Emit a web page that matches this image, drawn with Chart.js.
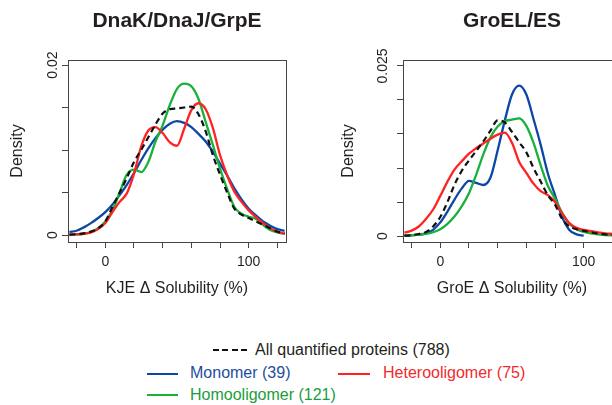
<!DOCTYPE html>
<html>
<head>
<meta charset="utf-8">
<script src="https://cdn.jsdelivr.net/npm/chart.js@4.4.1/dist/chart.umd.min.js"></script>
<style>
html, body { margin: 0; overflow: hidden; background: #fff; }
body { width: 612px; height: 405px; position: relative; font-family: "Liberation Sans", Arial, Helvetica, sans-serif; }
canvas { position: absolute; top: 0; }
#kje { left: 0; }
#groe { left: 306px; }
.leg { position: absolute; font-size: 16px; line-height: 18px; white-space: nowrap; }
.traco { position: absolute; height: 2px; }
</style>
</head>
<body>
<canvas id="kje" width="306" height="305"></canvas>
<canvas id="groe" width="330" height="305"></canvas>
<div id="legenda"></div>

<script>
// valores (densidade), grade de x em % de solubilidade
const xGrade = [-25,-20,-15,-10,-5,0,5,10,15,20,25,30,35,40,45,50,55,60,65,70,75,80,85,90,95,100,105,110,115,120,125];

const grupos = ['All quantified proteins (788)', 'Monomer (39)', 'Homooligomer (121)', 'Heterooligomer (75)'];
const cores = ['#111111', '#0c47a8', '#19b03c', '#ff2222'];
const coresTexto = ['#231f20', '#1d4e9e', '#1c9c3c', '#f02a2d'];

// DnaK/DnaJ/GrpE
const kjeTodos = [0.00005,0.0001,0.0002,0.0004,0.0008,0.0016,0.0033,0.005,0.0067,0.0086,0.01,0.0115,0.013,0.0143,0.0148,0.0149,0.015,0.0151,0.0142,0.0122,0.0094,0.0071,0.005,0.0031,0.0024,0.002,0.0016,0.0012,0.0008,0.0004,0.0002];
const kjeMono = [0.00035,0.0005,0.0009,0.0014,0.002,0.0027,0.0036,0.0047,0.0059,0.0073,0.0088,0.0102,0.0114,0.0124,0.0131,0.0134,0.0132,0.0127,0.0119,0.011,0.0098,0.0084,0.007,0.0055,0.0042,0.0031,0.0023,0.0016,0.0011,0.0007,0.0005];
const kjeHomo = [0,0.00005,0.00015,0.00035,0.0008,0.0016,0.0029,0.005,0.0071,0.0077,0.0074,0.0086,0.011,0.0129,0.0153,0.0172,0.0178,0.0175,0.016,0.0133,0.0106,0.0078,0.0054,0.0033,0.0025,0.00215,0.0019,0.0012,0.0006,0.0003,0.00015];
const kjeHetero = [0.00005,0.0001,0.00015,0.0003,0.0007,0.0014,0.0027,0.0039,0.0049,0.0072,0.0104,0.0123,0.0127,0.012,0.0109,0.0105,0.0125,0.0147,0.0155,0.0148,0.0126,0.0094,0.007,0.0051,0.0039,0.0029,0.0021,0.0014,0.0008,0.0004,0.00015];

// GroEL/ES
const groTodos = [0.00005,0.0001,0.0003,0.0006,0.0014,0.0028,0.005,0.0076,0.0096,0.0111,0.0125,0.0139,0.0155,0.017,0.0167,0.0153,0.0138,0.0123,0.01,0.008,0.006,0.0046,0.0025,0.0014,0.001,0.00075,0.00055,0.00035,0.00025,0.00015,0.0001];
const groMono = [0.00005,0.0001,0.0002,0.0004,0.0009,0.002,0.0036,0.0054,0.007,0.0081,0.0078,0.0075,0.0086,0.0126,0.017,0.0208,0.0221,0.0208,0.0172,0.0134,0.0092,0.006,0.0028,0.0009,0.00025,0.00005,null,null,null,null,null];
const groHomo = [0.00005,0.0001,0.0002,0.0003,0.00055,0.001,0.0018,0.0029,0.0044,0.0063,0.009,0.012,0.0145,0.0161,0.0169,0.0171,0.0173,0.0162,0.0137,0.0104,0.0074,0.0055,0.0034,0.0018,0.001,0.0006,0.0004,0.00025,0.00015,0.0001,0.00005];
const groHetero = [0.0005,0.0008,0.0014,0.0025,0.0039,0.0059,0.008,0.0098,0.011,0.0121,0.0129,0.0136,0.0143,0.0149,0.0152,0.0137,0.0109,0.0093,0.0077,0.0066,0.006,0.005,0.0033,0.0019,0.0012,0.0009,0.0007,0.00055,0.0004,0.0003,0.0002];

// ticks
const xTicksRotulo = [0, 100];
const kjeYRotulo = [0, 0.02];
const groYRotulo = [0, 0.025];

const corEixo = '#444';
Chart.defaults.font.family = '"Liberation Sans", Arial, Helvetica, sans-serif';
Chart.defaults.color = '#231f20';

// caixa em volta da area do grafico (estilo R)
const caixa = {
  id: 'caixa',
  afterDraw(chart) {
    const a = chart.chartArea, ctx = chart.ctx;
    ctx.save();
    ctx.strokeStyle = corEixo;
    ctx.lineWidth = 1;
    ctx.strokeRect(Math.round(a.left) + 0.5, Math.round(a.top) + 0.5, Math.round(a.right - a.left), Math.round(a.bottom - a.top));
    ctx.restore();
  }
};

const temRotulo = (lista, v) => lista.some(l => Math.abs(l - v) < 1e-9);

function montaGrafico(id, titulo, xTitulo, series, yMin, yMax, yRotulos, larguraY, padDireita, padTituloY, padTickY) {
  // ordem de desenho: tracejado preto por cima
  const ordem = [0, 3, 2, 1];
  const datasets = series.map((s, i) => ({
    label: grupos[i],
    data: s,
    borderColor: cores[i],
    borderWidth: i === 0 ? 2.2 : 2.3,
    borderDash: i === 0 ? [6, 4] : [],
    pointRadius: 0,
    fill: false,
    cubicInterpolationMode: 'monotone',
    order: ordem[i]
  }));

  return new Chart(document.getElementById(id), {
    type: 'line',
    data: { labels: xGrade, datasets: datasets },
    options: {
      responsive: false,
      animation: false,
      devicePixelRatio: 1,
      layout: { padding: { left: 0, right: padDireita, top: 0, bottom: 3 } },
      plugins: {
        legend: { display: false },
        tooltip: { enabled: false },
        title: {
          display: true,
          text: titulo,
          fullSize: false,
          font: { size: 21, weight: 'bold' },
          padding: { top: 9, bottom: 25.8 }
        }
      },
      scales: {
        x: {
          type: 'linear',
          min: -26,
          max: 126,
          afterFit: s => { s.height = 60; },
          grid: { drawOnChartArea: false, tickLength: 6, color: corEixo },
          border: { color: corEixo },
          ticks: {
            stepSize: 20,
            includeBounds: false,
            autoSkip: false,
            maxRotation: 0,
            padding: 6,
            font: { size: 14 },
            callback: v => temRotulo(xTicksRotulo, v) ? String(v) : ''
          },
          title: { display: true, text: xTitulo, font: { size: 16 }, padding: { top: 0, bottom: 3.4 } }
        },
        y: {
          min: yMin,
          max: yMax,
          afterFit: s => { s.width = larguraY; },
          grid: { drawOnChartArea: false, tickLength: 6, color: corEixo },
          border: { color: corEixo },
          ticks: {
            stepSize: 0.005,
            includeBounds: false,
            autoSkip: false,
            minRotation: 90,
            maxRotation: 90,
            crossAlign: 'center',
            padding: padTickY,
            font: { size: 14 },
            callback: v => temRotulo(yRotulos, v) ? String(v) : ''
          },
          title: { display: true, text: 'Density', font: { size: 16 }, padding: { top: padTituloY, bottom: 0 } }
        }
      }
    },
    plugins: [caixa]
  });
}

montaGrafico('kje', 'DnaK/DnaJ/GrpE', 'KJE \u0394 Solubility (%)',
  [kjeTodos, kjeMono, kjeHomo, kjeHetero], -0.00082, 0.02059, kjeYRotulo, 68, 20, 7.9, -5);

montaGrafico('groe', 'GroEL/ES', 'GroE \u0394 Solubility (%)',
  [groTodos, groMono, groHomo, groHetero], -0.00088, 0.02588, groYRotulo, 97, 15, 33.4, -4);

// legenda em html
const legPos = [
  { linha: [213, 349, 34], texto: [255, 341] },
  { linha: [147, 373, 31], texto: [190, 364] },
  { linha: [147, 394, 31], texto: [190, 386] },
  { linha: [338, 373, 32], texto: [383, 364] }
];
const leg = document.getElementById('legenda');
grupos.forEach((g, i) => {
  const p = legPos[i];
  const tr = document.createElement('div');
  tr.className = 'traco';
  tr.style.left = p.linha[0] + 'px';
  tr.style.top = p.linha[1] + 'px';
  tr.style.width = p.linha[2] + 'px';
  tr.style.background = i === 0
    ? 'repeating-linear-gradient(90deg,#111 0 6px,transparent 6px 9.4px)'
    : cores[i];
  leg.appendChild(tr);
  const tx = document.createElement('div');
  tx.className = 'leg';
  tx.style.left = p.texto[0] + 'px';
  tx.style.top = p.texto[1] + 'px';
  tx.style.color = coresTexto[i];
  tx.textContent = g;
  leg.appendChild(tx);
});
</script>
</body>
</html>
